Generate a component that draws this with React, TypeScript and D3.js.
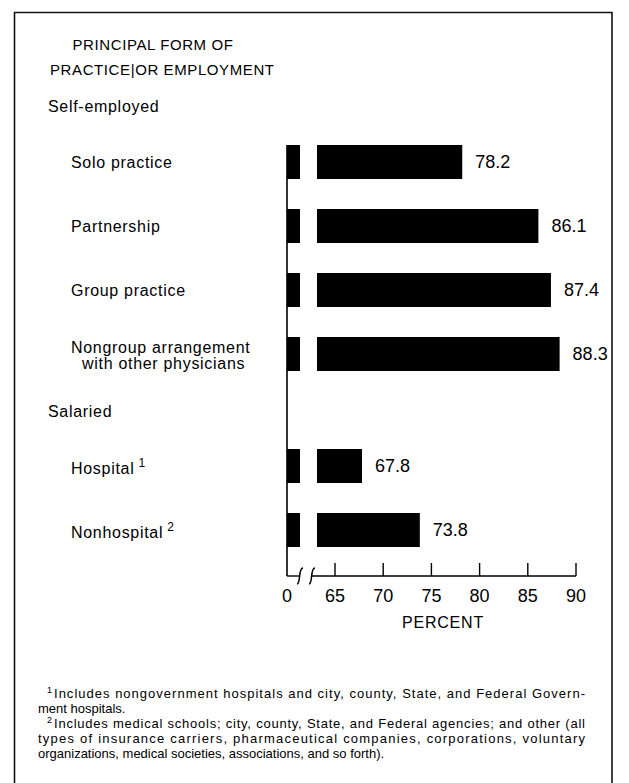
import React, { useEffect, useRef } from 'react';
import * as d3 from 'd3';

// chart values
const categories = ['Solo practice', 'Partnership', 'Group practice', 'Nongroup arrangement', 'Hospital', 'Nonhospital'];
const categoryLine2 = ['', '', '', 'with other physicians', '', ''];
const categoryNote = ['', '', '', '', '1', '2'];
const values = [78.2, 86.1, 87.4, 88.3, 67.8, 73.8];
const rowSlots = [0, 1, 2, 3, 4.75, 5.75];
const groups = ['Self-employed', 'Salaried'];
const groupSlots = [-0.87, 3.89];
const tickValues = [65, 70, 75, 80, 85, 90];
const titleLines = ['PRINCIPAL FORM OF', 'PRACTICE|OR EMPLOYMENT'];
const footnotes = [
  { sup: '1', text: 'Includes nongovernment hospitals and city, county, State, and Federal Govern-', indent: true, justify: true },
  { sup: '', text: 'ment hospitals.', indent: false, justify: false },
  { sup: '2', text: 'Includes medical schools; city, county, State, and Federal agencies; and other (all', indent: true, justify: true },
  { sup: '', text: 'types of insurance carriers, pharmaceutical companies, corporations, voluntary', indent: false, justify: true },
  { sup: '', text: 'organizations, medical societies, associations, and so forth).', indent: false, justify: false },
];

const FONT = '"Liberation Sans", Arial, sans-serif';

function App() {
  const ref = useRef<SVGSVGElement>(null);

  useEffect(() => {
    const svg = d3.select(ref.current);
    svg.selectAll('*').remove();

    const axisX = 287;
    const breakX = 317;
    const baseY = 576;
    const barH = 34;

    const x = d3.scaleLinear().domain([65, 90]).range([335, 576]);
    const rowY = d3.scaleLinear().domain([0, 1]).range([145, 209]);

    // frame (no bottom edge visible in the scan)
    svg.append('path')
      .attr('d', 'M14.5,783 L14.5,12.5 L612,12.5 L612,783')
      .attr('fill', 'none').attr('stroke', '#111').attr('stroke-width', 1.6);

    // title
    svg.append('text')
      .attr('x', 153).attr('y', 50)
      .attr('text-anchor', 'middle')
      .attr('font-family', FONT).attr('font-size', 15).attr('letter-spacing', 0.6)
      .text(titleLines[0]);
    svg.append('text')
      .attr('x', 50).attr('y', 75)
      .attr('font-family', FONT).attr('font-size', 15).attr('letter-spacing', 0.6)
      .text(titleLines[1]);

    // group headers
    svg.selectAll('.group')
      .data(groups)
      .enter()
      .append('text')
      .attr('class', 'group')
      .attr('x', 48)
      .attr('y', (d, i) => rowY(groupSlots[i]) + barH / 2 + 6)
      .attr('font-family', FONT).attr('font-size', 16).attr('letter-spacing', 0.7)
      .text(d => d);

    // category labels
    const labels = svg.selectAll('.cat')
      .data(categories)
      .enter()
      .append('text')
      .attr('class', 'cat')
      .attr('font-family', FONT).attr('font-size', 16).attr('letter-spacing', 0.7)
      .attr('x', 71)
      .attr('y', (d, i) => rowY(rowSlots[i]) + barH / 2 + 6 - (categoryLine2[i] ? 7 : 0) + (i >= 4 ? 2 : 0));
    labels.append('tspan').text(d => d);
    labels.append('tspan')
      .attr('dy', -7).attr('dx', 4).attr('font-size', 12)
      .text((d, i) => categoryNote[i]);
    labels.filter((d, i) => !!categoryLine2[i])
      .append('tspan')
      .attr('x', 82).attr('dy', 16)
      .text(d => categoryLine2[categories.indexOf(d)]);

    // stub bars beside the axis
    svg.selectAll('.stub')
      .data(values)
      .enter()
      .append('rect')
      .attr('class', 'stub')
      .attr('x', axisX)
      .attr('y', (d, i) => rowY(rowSlots[i]))
      .attr('width', 13)
      .attr('height', barH)
      .attr('fill', '#000');

    // main bars after the break
    svg.selectAll('.bar')
      .data(values)
      .enter()
      .append('rect')
      .attr('class', 'bar')
      .attr('x', breakX)
      .attr('y', (d, i) => rowY(rowSlots[i]))
      .attr('width', d => x(d) - breakX)
      .attr('height', barH)
      .attr('fill', '#000');

    // value labels
    svg.selectAll('.val')
      .data(values)
      .enter()
      .append('text')
      .attr('class', 'val')
      .attr('x', d => x(d) + 13)
      .attr('y', (d, i) => rowY(rowSlots[i]) + barH / 2 + 6)
      .attr('font-family', FONT).attr('font-size', 18)
      .text(d => d.toFixed(1));

    // vertical axis
    svg.append('line')
      .attr('x1', axisX).attr('x2', axisX)
      .attr('y1', 145).attr('y2', baseY)
      .attr('stroke', '#000').attr('stroke-width', 1.6);

    // baseline with break
    svg.append('line')
      .attr('x1', axisX).attr('x2', 300)
      .attr('y1', baseY).attr('y2', baseY)
      .attr('stroke', '#000').attr('stroke-width', 1.4);
    svg.append('line')
      .attr('x1', 312).attr('x2', x(90))
      .attr('y1', baseY).attr('y2', baseY)
      .attr('stroke', '#000').attr('stroke-width', 1.4);
    [300, 312].forEach(bx => {
      svg.append('path')
        .attr('d', `M${bx - 3},${baseY + 8} C${bx + 1},${baseY + 8} ${bx - 2},${baseY - 8} ${bx + 3},${baseY - 8}`)
        .attr('fill', 'none').attr('stroke', '#000').attr('stroke-width', 1.5);
    });

    // ticks
    svg.selectAll('.tick')
      .data(tickValues)
      .enter()
      .append('line')
      .attr('class', 'tick')
      .attr('x1', d => x(d)).attr('x2', d => x(d))
      .attr('y1', baseY).attr('y2', baseY - 13)
      .attr('stroke', '#000').attr('stroke-width', 1.4);

    svg.selectAll('.tlabel')
      .data(['0', ...tickValues.map(String)])
      .enter()
      .append('text')
      .attr('class', 'tlabel')
      .attr('x', (d, i) => (i === 0 ? axisX : x(+d)))
      .attr('y', 602)
      .attr('text-anchor', 'middle')
      .attr('font-family', FONT).attr('font-size', 18)
      .text(d => d);

    svg.append('text')
      .attr('x', 443).attr('y', 628)
      .attr('text-anchor', 'middle')
      .attr('font-family', FONT).attr('font-size', 16)
      .attr('letter-spacing', 0.8)
      .text('PERCENT');

    // footnotes
    const noteRight = 585;
    footnotes.forEach((f, i) => {
      const y = 698 + i * 15;
      const startX = f.indent ? 47 : 38;
      const t = svg.append('text')
        .attr('x', startX).attr('y', y)
        .attr('font-family', FONT).attr('font-size', 13);
      let textStart = startX;
      if (f.sup) {
        t.append('tspan').attr('font-size', 9).attr('dy', -5).text(f.sup);
        textStart = startX + 7;
      }
      const main = t.append('tspan')
        .attr('x', textStart)
        .attr('dy', f.sup ? 5 : 0)
        .text(f.text);
      if (f.justify) {
        main.attr('textLength', noteRight - textStart).attr('lengthAdjust', 'spacing');
      }
    });
  }, []);

  return (
    <svg
      ref={ref}
      width={629}
      height={783}
      style={{ position: 'absolute', left: 0, top: 0, background: '#fff' }}
    />
  );
}

export default App;
